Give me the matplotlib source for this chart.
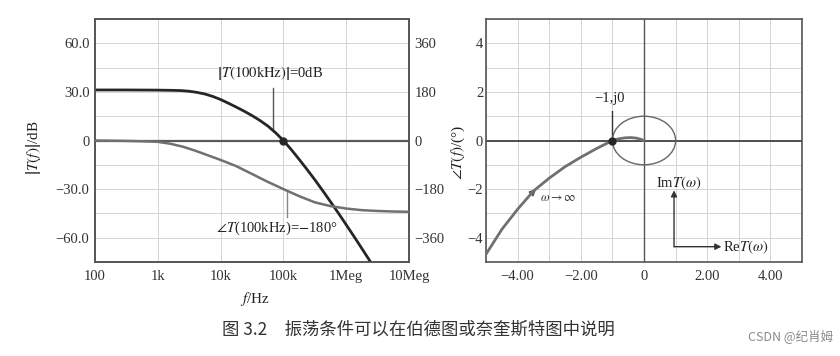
import matplotlib
matplotlib.use('Agg')
import matplotlib.pyplot as plt
from matplotlib.patches import Circle
import numpy as np

plt.rcParams['font.family'] = ['Liberation Serif', 'DejaVu Serif']
plt.rcParams['mathtext.fontset'] = 'stix'

# Bode plot: loop gain magnitude (dB)
mag_freq_hz = [100, 316, 1000, 1778, 2371, 3162, 4217, 5623, 7499, 10000, 13335,
               17783, 23714, 31623, 42170, 56234, 74989, 100000, 133352,
               177828, 237137, 316228, 421697, 562341, 749894, 1000000,
               1333521, 1778279, 2371374, 2818383]
mag_db = [31.2, 31.2, 31.1, 30.95, 30.8, 30.4, 29.7, 28.7, 27.2, 25.3, 23.0,
          20.6, 18.1, 15.4, 12.4, 9.0, 4.8, 0.0, -5.6,
          -11.6, -17.8, -24.2, -30.9, -37.8, -44.8, -52.0,
          -59.3, -66.7, -74.2, -78.7]

# Bode plot: loop gain phase (degrees)
phase_freq_hz = [100, 316, 562, 1000, 1585, 2512, 3981, 6310, 10000, 17783,
                 31623, 56234, 100000, 177828, 316228, 562341, 1000000,
                 1778279, 3162278, 5623413, 10000000]
phase_deg = [0, -1.5, -3, -5, -12, -23, -38, -55, -72, -95,
             -124, -153, -180, -206, -229, -243, -252,
             -258, -261, -263, -264]

# Nyquist plot
nyq_re = [-5.1, -5.0, -4.5, -4.0, -3.5, -3.0, -2.5, -2.0, -1.5, -1.0,
          -0.8, -0.6, -0.4, -0.25, -0.1, 0.0]
nyq_im = [-4.88, -4.68, -3.66, -2.83, -2.08, -1.55, -1.08, -0.69, -0.33, 0.0,
          0.07, 0.11, 0.12, 0.10, 0.05, 0.0]

freq_ticks = [100, 1e3, 1e4, 1e5, 1e6, 1e7]
freq_labels = ['100', '1k', '10k', '100k', '1Meg', '10Meg']
db_ticks = [60, 30, 0, -30, -60]
db_labels = ['60.0', '30.0', '0', '\u221230.0', '\u221260.0']
deg_ticks = [360, 180, 0, -180, -360]
deg_labels = ['360', '180', '0', '\u2212180', '\u2212360']
nyq_ticks = [-4, -2, 0, 2, 4]
nyq_xlabels = ['\u22124.00', '\u22122.00', '0', '2.00', '4.00']
nyq_ylabels = ['\u22124', '\u22122', '0', '2', '4']

dark = '#262626'
grey = '#707070'
frame = '#555555'
gridc = '#d4d4d4'

fig = plt.figure(figsize=(8.4, 3.56), dpi=100)
ax = fig.add_axes([95 / 840, 1 - 262 / 356, 314 / 840, 243 / 356])
ax2 = ax.twinx()
axn = fig.add_axes([486 / 840, 1 - 262 / 356, 316 / 840, 243 / 356])

# ---- Bode ----
ax.set_xscale('log')
ax.set_xlim(100, 1e7)
ax.set_ylim(-75, 75)
ax.set_xticks(freq_ticks)
ax.set_xticklabels(freq_labels)
ax.xaxis.set_minor_locator(matplotlib.ticker.NullLocator())
ax.set_yticks(db_ticks)
ax.set_yticklabels(db_labels)
ax.set_yticks(np.arange(-75, 76, 15), minor=True)
ax.grid(True, which='major', color=gridc, lw=0.7)
ax.grid(True, which='minor', axis='y', color=gridc, lw=0.7)
ax.set_axisbelow(True)
ax.tick_params(which='both', length=0, labelsize=10.5, colors='#333333')
ax.tick_params(axis='x', pad=6)
ax.tick_params(axis='y', pad=4)

ax.axhline(0, color='#5a5a5a', lw=1.6, zorder=2)
ax.plot(mag_freq_hz, mag_db, color=dark, lw=2.0, zorder=4)

ax2.set_ylim(-450, 450)
ax2.set_yticks(deg_ticks)
ax2.set_yticklabels(deg_labels)
ax2.tick_params(length=0, labelsize=10.5, colors='#333333', pad=4)
ax2.plot(phase_freq_hz, phase_deg, color=grey, lw=1.8, zorder=3)

for a in (ax, ax2):
    for s in a.spines.values():
        s.set_color(frame)
        s.set_linewidth(1.2)

ax.plot([1e5], [0], 'o', color=dark, ms=5, zorder=5)
ax.plot([69183, 69183], [32.5, 7.3], color='#555555', lw=1.0)
ax.text(61660, 41.6, r'$\left|T(100\mathrm{kHz})\right|$=0dB', ha='center',
        va='center', fontsize=10.5, color='#222222')
ax.plot([114815, 114815], [-31.5, -47.5], color='#888888', lw=1.0)
ax.text(79433, -54, r'$\angle T$(100kHz)=$-$180°', ha='center', va='center',
        fontsize=10.5, color='#222222')

ax.set_ylabel(r'$\left|T(f)\right|$/dB', fontsize=11, color='#222222')
ax.yaxis.set_label_coords(-0.166, 0.47)
ax.set_xlabel(r'$f$/Hz', fontsize=11, color='#222222')
ax.xaxis.set_label_coords(0.51, -0.115)
ax2.set_ylabel(r'$\angle T(f)$/(°)', fontsize=11, color='#222222')
ax2.yaxis.set_label_coords(1.128, 0.45)

# ---- Nyquist ----
axn.set_xlim(-5, 5)
axn.set_ylim(-5, 5)
axn.set_xticks(nyq_ticks)
axn.set_xticklabels(nyq_xlabels)
axn.set_yticks(nyq_ticks)
axn.set_yticklabels(nyq_ylabels)
axn.set_xticks(np.arange(-5, 6, 1), minor=True)
axn.set_yticks(np.arange(-5, 6, 1), minor=True)
axn.grid(True, which='both', color=gridc, lw=0.7)
axn.set_axisbelow(True)
axn.tick_params(which='both', length=0, labelsize=10.5, colors='#333333')
axn.tick_params(axis='x', pad=6)
axn.tick_params(axis='y', pad=2)
for s in axn.spines.values():
    s.set_color(frame)
    s.set_linewidth(1.2)

axn.axhline(0, color='#333333', lw=1.2, zorder=2)
axn.axvline(0, color='#555555', lw=1.0, zorder=2)
axn.add_patch(Circle((0, 0), 1, fill=False, color='#666666', lw=1.0, zorder=3))
axn.plot(nyq_re, nyq_im, color=grey, lw=2.0, zorder=4)
axn.plot([-1], [0], 'o', color=dark, ms=5, zorder=5)
axn.plot([-1, -1], [0, 1.22], color='#333333', lw=1.0)
axn.text(-1.09, 1.73, '\u22121,j0', ha='center', va='center', fontsize=10.5,
         color='#222222')

axn.annotate('', xy=(-3.35, -1.92), xytext=(-3.6, -2.23),
             arrowprops=dict(arrowstyle='-|>', color='#555555', lw=1.2,
                             mutation_scale=9))
axn.text(-3.3, -2.36, r'$\omega\rightarrow\infty$', ha='left', va='center',
         fontsize=9, color='#333333')

axn.annotate('', xy=(0.95, -2.05), xytext=(0.95, -4.37),
             arrowprops=dict(arrowstyle='-|>', color='#333333', lw=1.0,
                             mutation_scale=9, shrinkA=0, shrinkB=0))
axn.annotate('', xy=(2.45, -4.37), xytext=(0.95, -4.37),
             arrowprops=dict(arrowstyle='-|>', color='#333333', lw=1.0,
                             mutation_scale=9, shrinkA=0, shrinkB=0))
axn.text(1.1, -1.75, r'Im$T(\omega)$', ha='center', va='center',
         fontsize=10.5, color='#222222')
axn.text(2.5, -4.4, r'Re$T(\omega)$', ha='left', va='center',
         fontsize=10.5, color='#222222')

# ---- caption ----
fig.text(222 / 840, 1 - 330 / 356, '图 3.2\u3000振荡条件可以在伯德图或奈奎斯特图中说明',
         ha='left', va='center', fontsize=12.5, color='#333333',
         family=['Noto Sans CJK SC', 'DejaVu Sans'])
fig.text(833 / 840, 1 - 336 / 356, 'CSDN @纪肖姆', ha='right', va='center',
         fontsize=9, color='#8a8a8a', family=['Noto Sans CJK SC', 'DejaVu Sans'])

fig.savefig('out.png', dpi=100, facecolor='white')
